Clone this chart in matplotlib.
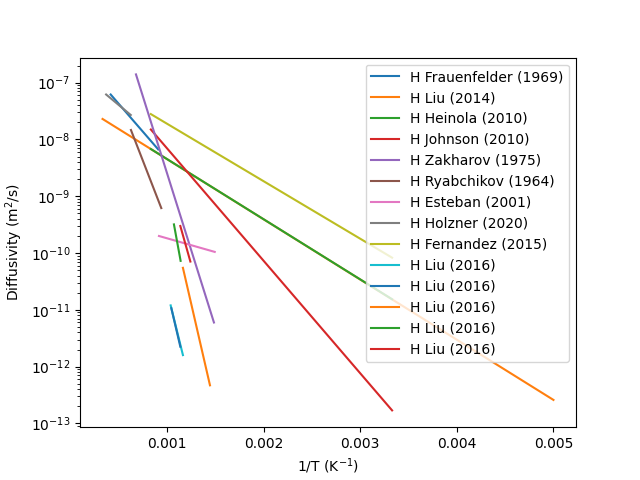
import matplotlib
matplotlib.use("Agg")
import matplotlib.pyplot as plt

# Arrhenius lines: 1/T endpoints and diffusivity endpoints
labels = [
    "H Frauenfelder (1969)",
    "H Liu (2014)",
    "H Heinola (2010)",
    "H Johnson (2010)",
    "H Zakharov (1975)",
    "H Ryabchikov (1964)",
    "H Esteban (2001)",
    "H Holzner (2020)",
    "H Fernandez (2015)",
    "H Liu (2016)",
    "H Liu (2016)",
    "H Liu (2016)",
    "H Liu (2016)",
    "H Liu (2016)",
]

inv_T = [
    [0.000417, 0.000909],
    [0.000333, 0.005],
    [0.000833, 0.00333],
    [0.000833, 0.00333],
    [0.000679, 0.001486],
    [0.000627, 0.000941],
    [0.000917, 0.001494],
    [0.00037, 0.000625],
    [0.000833, 0.00333],
    [0.001038, 0.001165],
    [0.001045, 0.001138],
    [0.001165, 0.001445],
    [0.001072, 0.001141],
    [0.001138, 0.001242],
]

diffusivity = [
    [6.2e-8, 6.7e-9],
    [2.3e-8, 2.6e-13],
    [6.8e-9, 1.54e-11],
    [1.5e-8, 1.7e-13],
    [1.4e-7, 6.0e-12],
    [1.47e-8, 6.2e-10],
    [2.0e-10, 1.05e-10],
    [6.2e-8, 2.7e-8],
    [2.8e-8, 8.3e-11],
    [1.2e-11, 1.6e-12],
    [1.07e-11, 2.25e-12],
    [5.5e-11, 4.7e-13],
    [3.2e-10, 7.3e-11],
    [3.0e-10, 7.1e-11],
]

fig, ax = plt.subplots(figsize=(6.4, 4.8), dpi=100)

for lab, x, d in zip(labels, inv_T, diffusivity):
    ax.plot(x, d, label=lab)

ax.set_yscale("log")
ax.set_xlabel("1/T (K$^{-1}$)")
ax.set_ylabel("Diffusivity (m$^2$/s)")
ax.legend(loc="upper right")

fig.savefig("out.png")
